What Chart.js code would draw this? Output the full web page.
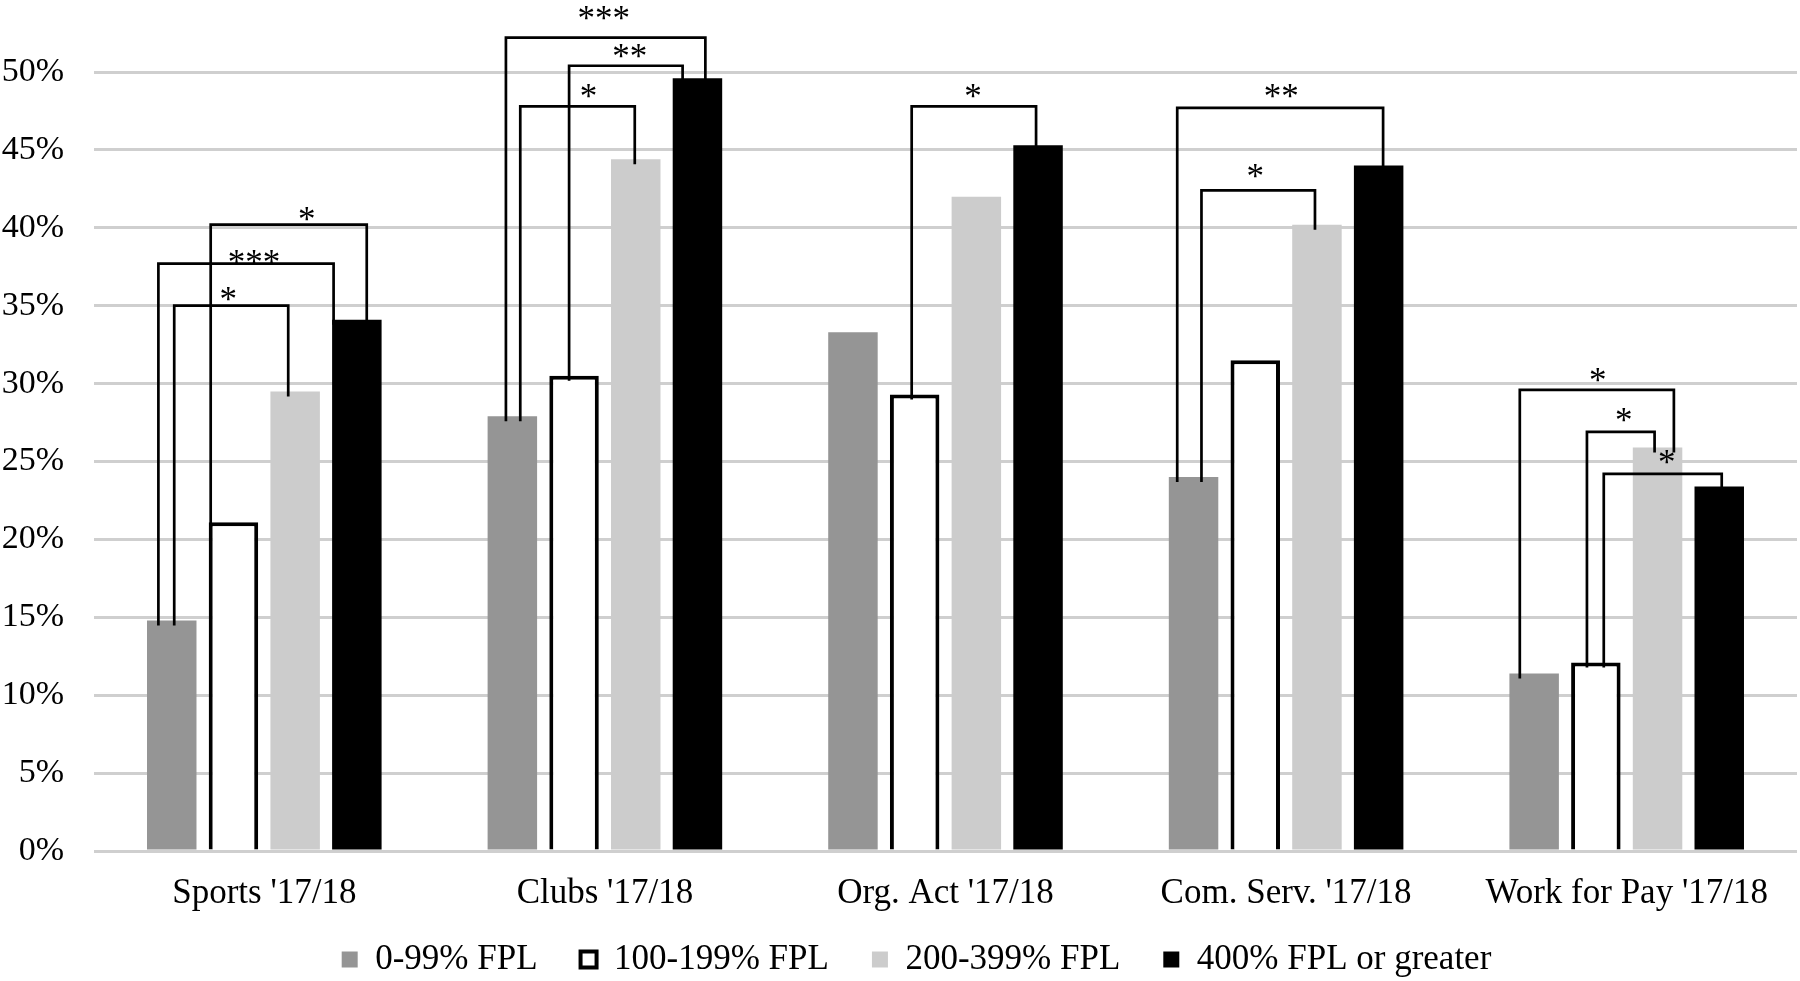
<!DOCTYPE html>
<html>
<head>
<meta charset="utf-8">
<script src="https://cdn.jsdelivr.net/npm/chart.js@4.4.0/dist/chart.umd.min.js"></script>
<style>
  html, body { margin: 0; padding: 0; background: #fff; }
</style>
</head>
<body>
<canvas id="chart" width="1800" height="981"></canvas>
<script>
const categories = ["Sports '17/18", "Clubs '17/18", "Org. Act '17/18", "Com. Serv. '17/18", "Work for Pay '17/18"];
const seriesNames = ["0-99% FPL", "100-199% FPL", "200-399% FPL", "400% FPL or greater"];
const fpl0to99 = [14.8, 27.9, 33.3, 24.0, 11.4];
const fpl100to199 = [21.1, 30.5, 29.3, 31.5, 12.1];
const fpl200to399 = [29.5, 44.4, 42.0, 40.2, 25.9];
const fpl400plus = [34.1, 49.6, 45.3, 44.0, 23.4];
const yTicks = [0, 5, 10, 15, 20, 25, 30, 35, 40, 45, 50];

// significance brackets: [category, from series, to series, bracket level (%), stars]
const brackets = [
  [0, 1, 3, 40.2, '*'],
  [0, 0, 3, 37.7, '***'],
  [0, 0, 2, 35.0, '*'],
  [1, 0, 3, 52.2, '***'],
  [1, 1, 3, 50.4, '**'],
  [1, 0, 2, 47.8, '*'],
  [2, 1, 3, 47.8, '*'],
  [3, 0, 3, 47.7, '**'],
  [3, 0, 2, 42.4, '*'],
  [4, 0, 2, 29.6, '*'],
  [4, 1, 2, 26.9, '*'],
  [4, 1, 3, 24.2, '*']
];
// drawing layout for each bracket: leg offsets (fraction of bar width), label lift (px), label nudge (px)
const bracketLayout = [
  [-0.46, 0.20, 11, 18],
  [-0.27, -0.47, 7, 8],
  [0.05, -0.14, 12, -3],
  [-0.13, 0.16, 25, -2],
  [-0.10, -0.30, 15, 4],
  [0.16, -0.02, 15, 11],
  [-0.06, -0.04, 15, -1],
  [-0.33, 0.09, 17, 1],
  [0.16, -0.04, 19, -3],
  [-0.29, 0.33, 15, 1],
  [-0.18, -0.06, 17, 3],
  [0.16, 0.05, 17, 4]
];

const FONT = "'Liberation Serif', 'Times New Roman', serif";

const bracketPlugin = {
  id: 'brackets',
  afterDatasetsDraw(chart) {
    const ctx = chart.ctx;
    const yScale = chart.scales.y;
    ctx.save();
    ctx.strokeStyle = '#000';
    ctx.lineWidth = 2.7;
    ctx.fillStyle = '#000';
    ctx.font = '35px ' + FONT;
    ctx.textAlign = 'center';
    ctx.textBaseline = 'alphabetic';
    brackets.forEach(([cat, a, b, level, stars], i) => {
      const [offA, offB, lift, dx] = bracketLayout[i];
      const barA = chart.getDatasetMeta(a).data[cat];
      const barB = chart.getDatasetMeta(b).data[cat];
      const xa = barA.x + offA * barA.width;
      const xb = barB.x + offB * barB.width;
      const yl = yScale.getPixelForValue(level);
      ctx.beginPath();
      ctx.moveTo(xa, barA.y + 5);
      ctx.lineTo(xa, yl);
      ctx.lineTo(xb, yl);
      ctx.lineTo(xb, barB.y + 5);
      ctx.stroke();
      const m = ctx.measureText(stars);
      const base = yl - lift + (m.actualBoundingBoxAscent - m.actualBoundingBoxDescent) / 2;
      ctx.fillText(stars, (xa + xb) / 2 + dx, base);
    });
    ctx.restore();
  }
};

// pull the legend up under the axis labels and shift it a little to the right
const legendPlace = {
  id: 'legendPlace',
  afterLayout(chart) {
    const l = chart.legend;
    l.left = 36;
    l.top = 899;
    l.bottom = l.top + l.height;
  }
};

const chart = new Chart(document.getElementById('chart'), {
  type: 'bar',
  plugins: [bracketPlugin, legendPlace],
  data: {
    labels: categories,
    datasets: [
      { label: seriesNames[0], data: fpl0to99, backgroundColor: '#959595', borderWidth: 0 },
      { label: seriesNames[1], data: fpl100to199, backgroundColor: '#ffffff', borderColor: '#000000', borderWidth: 4 },
      { label: seriesNames[2], data: fpl200to399, backgroundColor: '#cccccc', borderWidth: 0 },
      { label: seriesNames[3], data: fpl400plus, backgroundColor: '#000000', borderWidth: 0 }
    ]
  },
  options: {
    responsive: false,
    animation: false,
    categoryPercentage: 0.7246,
    barPercentage: 0.802,
    layout: { padding: { left: 0, right: 3, top: 72, bottom: -28 } },
    plugins: {
      tooltip: { enabled: false },
      legend: {
        position: 'bottom',
        labels: {
          font: { family: FONT, size: 35 },
          color: '#000',
          boxWidth: 16,
          boxHeight: 16,
          padding: 43
        }
      }
    },
    scales: {
      x: {
        grid: { display: false },
        border: { display: false },
        ticks: {
          font: { family: FONT, size: 35 },
          color: '#000',
          padding: 14,
          maxRotation: 0,
          autoSkip: false
        },
        afterFit(scale) { scale.height = 70; }
      },
      y: {
        min: 0,
        max: 50,
        afterBuildTicks(scale) { scale.ticks = yTicks.map(v => ({ value: v })); },
        grid: { color: '#cfcfcf', lineWidth: 3, drawTicks: false },
        border: { display: false },
        ticks: {
          font: { family: FONT, size: 34 },
          color: '#000',
          padding: 30,
          callback: v => v + '%'
        },
        afterFit(scale) { scale.width = 94; }
      }
    }
  }
});
</script>
</body>
</html>
